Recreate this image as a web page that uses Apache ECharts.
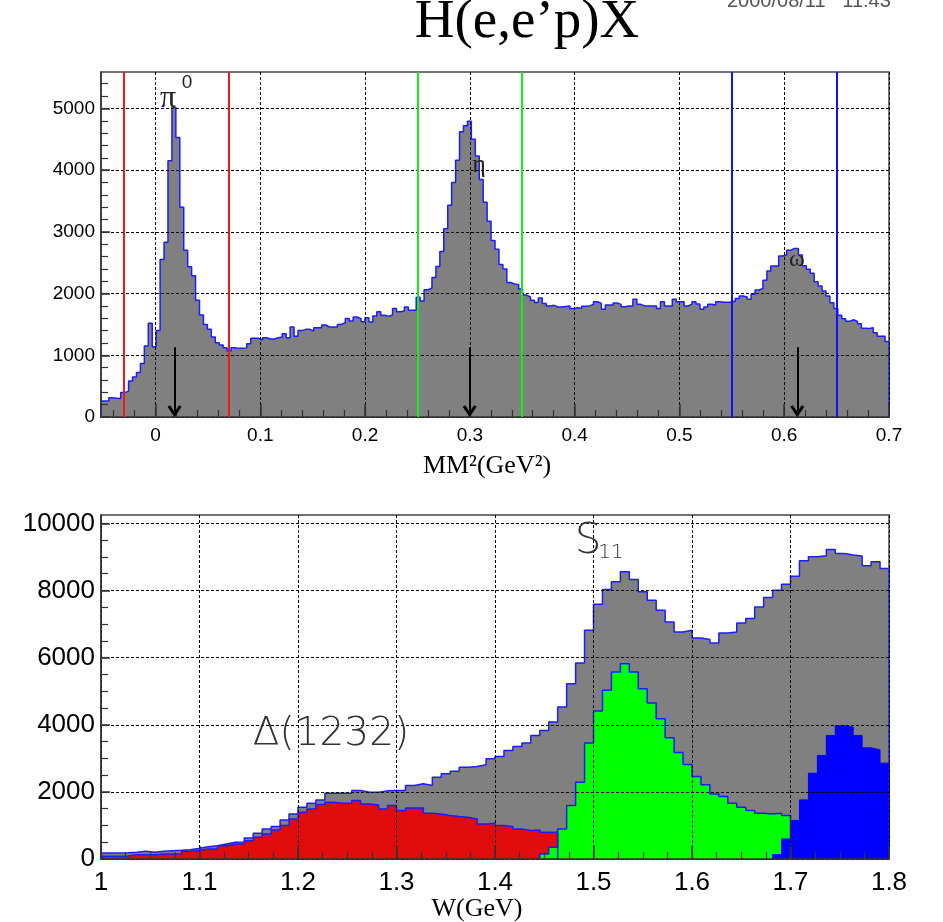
<!DOCTYPE html>
<html>
<head>
<meta charset="utf-8">
<title>H(e,e'p)X</title>
<script src="https://cdn.jsdelivr.net/npm/echarts@6/dist/echarts.min.js"></script>
<style>
  html, body { margin: 0; padding: 0; background: #fff; }
  #chart { width: 943px; height: 922px; }
</style>
</head>
<body>
<div id="chart"></div>
<script>
// ---- top panel: missing mass squared, 200 bins from -0.052 to 0.7 GeV^2
const mm2Lo = -0.052;
const mm2Hi = 0.7;
const mm2BinWidth = (mm2Hi - mm2Lo) / 200;
const mm2Counts = [
  260, 260, 313, 305, 300, 395, 420, 583, 650, 720,
  865, 1150, 1517, 1140, 1400, 2550, 2830, 4150, 5020, 4530,
  3400, 2700, 2435, 2290, 1890, 1652, 1500, 1420, 1296, 1204,
  1166, 1123, 1069, 1123, 1112, 1112, 1120, 1188, 1274, 1274,
  1250, 1285, 1265, 1265, 1285, 1296, 1350, 1285, 1458, 1310,
  1400, 1420, 1420, 1393, 1447, 1447, 1490, 1458, 1458, 1458,
  1500, 1528, 1598, 1555, 1620, 1593, 1544, 1609, 1539, 1636,
  1706, 1650, 1630, 1652, 1760, 1706, 1717, 1782, 1728, 1728,
  1940, 1880, 2060, 2090, 2260, 2440, 2680, 3050, 3430, 3800,
  4160, 4620, 4720, 4790, 4500, 4230, 3850, 3480, 3170, 2860,
  2720, 2470, 2400, 2180, 2155, 2145, 2075, 1976, 1944, 1890,
  1855, 1930, 1840, 1798, 1809, 1782, 1782, 1790, 1798, 1760,
  1771, 1760, 1793, 1800, 1825, 1868, 1841, 1744, 1814, 1814,
  1847, 1825, 1787, 1798, 1798, 1906, 1825, 1798, 1798, 1798,
  1798, 1760, 1868, 1798, 1798, 1906, 1868, 1868, 1798, 1830,
  1868, 1830, 1744, 1782, 1825, 1815, 1868, 1858, 1858, 1858,
  1880, 1922, 1960, 1944, 1906, 1987, 2057, 2084, 2214, 2365,
  2446, 2446, 2608, 2624, 2700, 2732, 2732, 2624, 2450, 2392,
  2330, 2192, 2122, 2041, 1960, 1850, 1760, 1650, 1590, 1550,
  1575, 1550, 1510, 1440, 1435, 1445, 1365, 1310, 1310, 1225
];
const mm2YMax = 5590;
// cut windows and nominal masses squared
const pi0Cut = [-0.025, 0.075];
const etaCut = [0.25, 0.35];
const omegaCut = [0.55, 0.65];
const mesonMass2 = [0.0182, 0.2998, 0.6125];
const arrowTop = 1130;
const arrowEnd = 95;

// ---- bottom panel: W, 88 bins from 1.0 to 1.8 GeV
const wLo = 1.0;
const wHi = 1.8;
const wBinWidth = 0.8 / 88;
const wTotal = [
  179, 179, 185, 199, 229, 199, 229, 249, 260, 279,
  318, 368, 398, 448, 498, 510, 627, 766, 896, 965,
  1164, 1343, 1542, 1662, 1761, 1960, 1960, 1960, 2040, 1990,
  1990, 2030, 2040, 2040, 2189, 2239, 2189, 2438, 2537, 2617,
  2736, 2756, 2806, 2985, 3055, 3234, 3353, 3453, 3682, 3831,
  4080, 4527, 5224, 5841, 6816, 7592, 8030, 8259, 8557, 8328,
  7960, 7711, 7413, 7065, 6766, 6816, 6587, 6537, 6438, 6736,
  6766, 7035, 7164, 7512, 7791, 8010, 8189, 8428, 8885, 9005,
  9035, 9224, 9104, 9055, 9025, 8736, 8856, 8657
];
const deltaFirstBin = 0;
const deltaCounts = [
  80, 80, 90, 129, 129, 129, 149, 149, 160, 229,
  260, 299, 299, 398, 448, 448, 547, 647, 746, 866,
  995, 1194, 1393, 1492, 1622, 1692, 1662, 1662, 1741, 1642,
  1612, 1492, 1592, 1443, 1522, 1522, 1363, 1343, 1294, 1264,
  1244, 1194, 1045, 1065, 995, 965, 896, 846, 866, 796, 796
];
const s11FirstBin = 49;
const s11Counts = [
  150, 350, 896, 1592, 2289, 3453, 4408, 5025, 5572, 5821,
  5572, 5075, 4650, 4179, 3612, 3170, 2816, 2458, 2209, 1940,
  1861, 1662, 1542, 1443, 1363, 1343, 1363, 1294
];
const highFirstBin = 75;
const highCounts = [129, 597, 1150, 1761, 2557, 3085, 3682, 3970, 3930, 3682, 3313, 3254, 2856];
const wYMax = 10250;

// ---- helpers
function stepData(lo, width, firstBin, counts) {
  const pts = [[lo + firstBin * width, 0]];
  counts.forEach((c, k) => pts.push([lo + (firstBin + k) * width, c]));
  const endX = lo + (firstBin + counts.length) * width;
  pts.push([endX, counts[counts.length - 1]]);
  pts.push([endX, 0]);
  return pts;
}
function ticks(start, stop, step) {
  const out = [];
  const n = Math.round((stop - start) / step);
  for (let i = 0; i <= n; i++) out.push(Math.round((start + i * step) * 10000) / 10000);
  return out;
}

const topFont = { fontFamily: 'Liberation Sans', fontSize: 19, color: '#000' };
const botFont = { fontFamily: 'Liberation Sans', fontSize: 26, color: '#000' };
const axisLine = { show: true, onZero: false, lineStyle: { color: '#333', width: 1.5 } };
const gridLine = { show: true, lineStyle: { color: '#000', width: 1, type: [3, 2] } };
const outline = '#1c1cff';

const topRect = { left: 101, top: 72, width: 788, height: 345 };
const botRect = { left: 101, top: 515, width: 788, height: 344 };

function mainX(grid, min, max, major, font, margin) {
  return {
    type: 'value', gridIndex: grid, min: min, max: max, z: 3,
    axisLine: axisLine,
    axisTick: { show: true, inside: true, length: 13, customValues: major, lineStyle: { color: '#333', width: 1.5 } },
    axisLabel: Object.assign({ customValues: major, margin: margin, formatter: v => String(v) }, font),
    splitLine: gridLine
  };
}
function mainY(grid, max, major, font) {
  return {
    type: 'value', gridIndex: grid, min: 0, max: max, z: 3,
    axisLine: axisLine,
    axisTick: { show: true, inside: true, length: 9, customValues: major, lineStyle: { color: '#333', width: 1.5 } },
    axisLabel: Object.assign({ customValues: major, margin: 6, formatter: v => String(v) }, font),
    splitLine: gridLine
  };
}
function minorAxis(grid, min, max, values, len) {
  return {
    type: 'value', gridIndex: grid, min: min, max: max, z: 3,
    axisLine: { show: false, onZero: false },
    axisTick: { show: true, inside: true, length: len, customValues: values, lineStyle: { color: '#333', width: 1.2 } },
    axisLabel: { show: false },
    splitLine: { show: false }
  };
}

const chevron = 'path://M5,0 L10,8.5 L8.2,9.8 L5,4.4 L1.8,9.8 L0,8.5 Z';

function cutLine(x, color) {
  return { xAxis: x, lineStyle: { color: color, width: 2, type: 'solid' } };
}

const option = {
  animation: false,
  backgroundColor: '#fff',
  grid: [
    Object.assign({ show: true, borderColor: '#444', borderWidth: 1.5, backgroundColor: 'transparent' }, topRect),
    Object.assign({ show: true, borderColor: '#444', borderWidth: 1.5, backgroundColor: 'transparent' }, botRect),
    Object.assign({}, topRect),
    Object.assign({}, botRect)
  ],
  xAxis: [
    mainX(0, mm2Lo, mm2Hi, ticks(0, 0.7, 0.1), topFont, 9),
    mainX(1, wLo, wHi, ticks(1.0, 1.8, 0.1), botFont, 11),
    minorAxis(2, mm2Lo, mm2Hi, ticks(-0.04, 0.68, 0.02), 7),
    minorAxis(3, wLo, wHi, ticks(1.025, 1.775, 0.025), 7)
  ],
  yAxis: [
    mainY(0, mm2YMax, ticks(0, 5000, 1000), topFont),
    mainY(1, wYMax, ticks(0, 10000, 2000), botFont),
    minorAxis(2, 0, mm2YMax, ticks(200, 5400, 200), 7),
    minorAxis(3, 0, wYMax, ticks(500, 10000, 500), 7)
  ],
  series: [
    {
      name: 'MM2', type: 'line', xAxisIndex: 0, yAxisIndex: 0, z: 2,
      step: 'end', showSymbol: false, silent: true,
      data: stepData(mm2Lo, mm2BinWidth, 0, mm2Counts),
      lineStyle: { color: outline, width: 1.5 },
      areaStyle: { color: '#808080', opacity: 1 }
    },
    {
      name: 'cuts', type: 'line', xAxisIndex: 0, yAxisIndex: 0, z: 5, data: [],
      markLine: {
        silent: true, symbol: 'none', label: { show: false },
        data: [
          cutLine(pi0Cut[0], '#f01818'), cutLine(pi0Cut[1], '#f01818'),
          cutLine(etaCut[0], '#10f010'), cutLine(etaCut[1], '#10f010'),
          cutLine(omegaCut[0], '#1010ff'), cutLine(omegaCut[1], '#1010ff')
        ]
      }
    },
    {
      name: 'arrows', type: 'line', xAxisIndex: 0, yAxisIndex: 0, z: 6, data: [],
      markLine: {
        silent: true, symbol: ['none', chevron], symbolSize: [14, 12], label: { show: false },
        lineStyle: { color: '#000', width: 2, type: 'solid' },
        data: mesonMass2.map(m => [{ coord: [m, arrowTop] }, { coord: [m, arrowEnd] }])
      }
    },
    {
      name: 'W', type: 'line', xAxisIndex: 1, yAxisIndex: 1, z: 2,
      step: 'end', showSymbol: false, silent: true,
      data: stepData(wLo, wBinWidth, 0, wTotal),
      lineStyle: { color: outline, width: 1.5 },
      areaStyle: { color: '#808080', opacity: 1 }
    },
    {
      name: 'Delta', type: 'line', xAxisIndex: 1, yAxisIndex: 1, z: 2,
      step: 'end', showSymbol: false, silent: true,
      data: stepData(wLo, wBinWidth, deltaFirstBin, deltaCounts),
      lineStyle: { color: outline, width: 1.5 },
      areaStyle: { color: '#e00c0c', opacity: 1 }
    },
    {
      name: 'S11', type: 'line', xAxisIndex: 1, yAxisIndex: 1, z: 2,
      step: 'end', showSymbol: false, silent: true,
      data: stepData(wLo, wBinWidth, s11FirstBin, s11Counts),
      lineStyle: { color: outline, width: 1.5 },
      areaStyle: { color: '#00ff00', opacity: 1 }
    },
    {
      name: 'high', type: 'line', xAxisIndex: 1, yAxisIndex: 1, z: 2,
      step: 'end', showSymbol: false, silent: true,
      data: stepData(wLo, wBinWidth, highFirstBin, highCounts),
      lineStyle: { color: '#0000ff', width: 1 },
      areaStyle: { color: '#0000ff', opacity: 1 }
    }
  ],
  graphic: [
    { type: 'text', z: 100, style: { text: 'H(e,e\u2019p)X', x: 527, y: 50, textAlign: 'center', textVerticalAlign: 'bottom', font: '55px "Liberation Serif"', fill: '#000' } },
    { type: 'text', z: 100, style: { text: '2000/08/11   11:43', x: 727, y: -9, textAlign: 'left', textVerticalAlign: 'top', font: '20px "Liberation Sans"', fill: '#555' } },
    { type: 'text', z: 100, style: { text: 'MM\u00b2(GeV\u00b2)', x: 487, y: 466, textAlign: 'center', textVerticalAlign: 'middle', font: '26px "Liberation Serif"', fill: '#000' } },
    { type: 'text', z: 100, style: { text: 'W(GeV)', x: 477, y: 909, textAlign: 'center', textVerticalAlign: 'middle', font: '26px "Liberation Serif"', fill: '#000' } },
    { type: 'text', z: 100, style: { text: '\u03c0', x: 168, y: 99, textAlign: 'center', textVerticalAlign: 'middle', font: '32px "Liberation Serif"', fill: '#222' } },
    { type: 'text', z: 100, style: { text: '0', x: 187, y: 83, textAlign: 'center', textVerticalAlign: 'middle', font: '19px "Liberation Sans"', fill: '#222' } },
    { type: 'text', z: 100, style: { text: '\u03b7', x: 479, y: 165, textAlign: 'center', textVerticalAlign: 'middle', font: '26px "Liberation Serif"', fill: '#222' } },
    { type: 'text', z: 100, style: { text: '\u03c9', x: 797, y: 260, textAlign: 'center', textVerticalAlign: 'middle', font: '24px "Liberation Serif"', fill: '#222' } },
    { type: 'text', z: 100, style: { text: '\u0394(1232)', x: 331, y: 735, textAlign: 'center', textVerticalAlign: 'middle', font: '200 39px "DejaVu Sans", "Liberation Sans"', fill: '#333' } },
    { type: 'text', z: 100, style: { text: 'S', x: 588, y: 542, textAlign: 'center', textVerticalAlign: 'middle', font: '200 42px "DejaVu Sans", "Liberation Sans"', fill: '#333' } },
    { type: 'text', z: 100, style: { text: '11', x: 611, y: 553, textAlign: 'center', textVerticalAlign: 'middle', font: '200 20px "DejaVu Sans", "Liberation Sans"', fill: '#333' } }
  ]
};

const chart = echarts.init(document.getElementById('chart'));
chart.setOption(option);
</script>
</body>
</html>
